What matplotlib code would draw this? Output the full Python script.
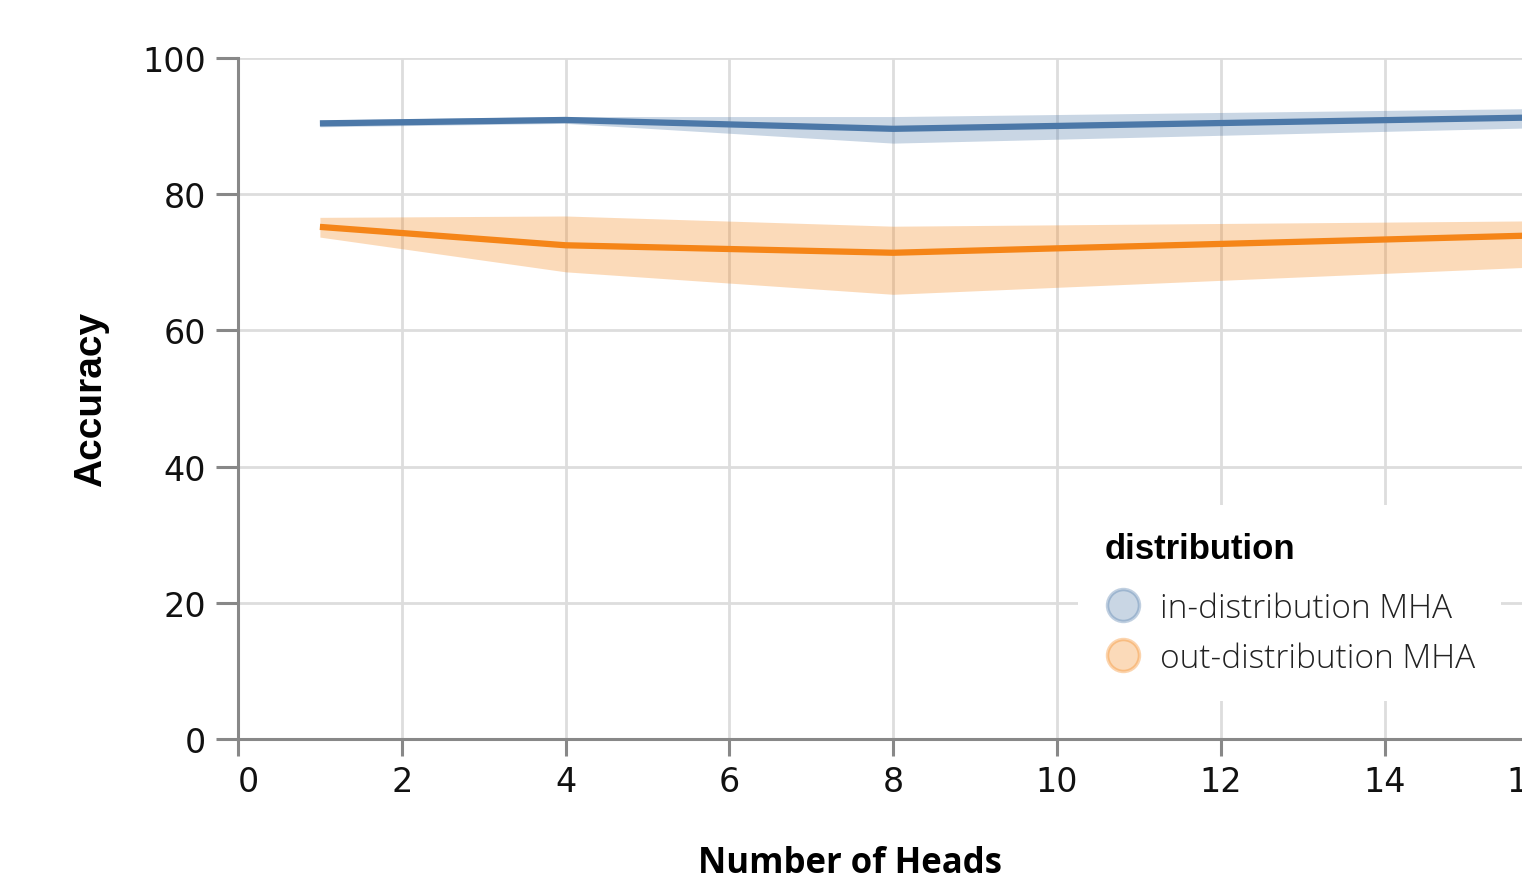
import matplotlib
matplotlib.use("Agg")
import matplotlib.pyplot as plt
from matplotlib.lines import Line2D
from matplotlib.colors import to_rgba
from matplotlib.font_manager import FontProperties

# ---- data ----
heads = [1, 4, 8, 16]
in_mean = [90.4, 90.9, 89.6, 91.3]
in_lo = [89.9, 90.4, 87.5, 89.8]
in_hi = [90.9, 91.4, 91.4, 92.6]
out_mean = [75.2, 72.5, 71.4, 74.0]
out_lo = [73.7, 68.6, 65.3, 69.4]
out_hi = [76.6, 76.8, 75.3, 76.1]
series_labels = ["in-distribution MHA", "out-distribution MHA"]
x_ticks = [0, 2, 4, 6, 8, 10, 12, 14, 16]
y_ticks = [0, 20, 40, 60, 80, 100]

BLUE = "#4c78a8"
ORANGE = "#f58518"
AXC = "#888888"
GRIDC = "#dddddd"

W, H = 1522, 879
fig = plt.figure(figsize=(W / 100, H / 100), dpi=100)
x0, x1 = 238, 238 + 16 * 81.9
y0, y1 = 740, 59
ax = fig.add_axes([x0 / W, 1 - y0 / H, (x1 - x0) / W, (y0 - y1) / H])
ax.set_xlim(0, 16)
ax.set_ylim(0, 100)

ax.fill_between(heads, in_lo, in_hi, color=BLUE, alpha=0.3, lw=0, zorder=2)
ax.fill_between(heads, out_lo, out_hi, color=ORANGE, alpha=0.3, lw=0, zorder=2)
ax.plot(heads, in_mean, color=BLUE, lw=4.5, zorder=3, solid_capstyle="butt")
ax.plot(heads, out_mean, color=ORANGE, lw=4.5, zorder=3, solid_capstyle="butt")

# axes styling
for s in ["top", "right"]:
    ax.spines[s].set_visible(False)
for s in ["left", "bottom"]:
    ax.spines[s].set_color(AXC)
    ax.spines[s].set_linewidth(2.2)
ax.grid(True, color=GRIDC, lw=2)
ax.set_axisbelow(True)

tick_font = dict(family="DejaVu Sans", size=24)
ax.set_xticks(x_ticks)
ax.set_yticks(y_ticks)
ax.set_xticklabels([str(t) for t in x_ticks], fontdict=tick_font, color="#111111")
ax.set_yticklabels([str(t) for t in y_ticks], fontdict=tick_font, color="#111111")
xl = ax.get_xticklabels()
xl[0].set_ha("left")
xl[-1].set_ha("right")
ax.tick_params(axis="y", length=16, width=2.2, color=AXC, pad=7)
ax.tick_params(axis="x", length=12, width=2.2, color=AXC, pad=7)

ax.set_ylabel("Accuracy", family="Liberation Sans", weight="bold", size=28)
ax.yaxis.label.set_va("center")
ax.yaxis.set_label_coords((91 - x0) / (x1 - x0), 0.5)
ax.set_xlabel("Number of Heads", family="Open Sans", weight="bold", size=25)
ax.xaxis.label.set_va("center")
ax.xaxis.set_label_coords((850 - x0) / (x1 - x0), (y0 - 864) / (y0 - y1))

handles = [
    Line2D([], [], marker="o", ls="", ms=23,
           mfc=to_rgba(c, 0.3), mec=to_rgba(c, 0.35), mew=2.5)
    for c in (BLUE, ORANGE)
]
leg = ax.legend(
    handles, series_labels, title="distribution",
    loc="upper left", bbox_to_anchor=(1078 / W, 1 - 506 / H),
    bbox_transform=fig.transFigure, borderaxespad=0,
    frameon=True, facecolor="white", edgecolor="none", framealpha=1,
    fancybox=False, alignment="left",
    prop=FontProperties(family="Open Sans", weight="light", size=24),
    title_fontproperties=FontProperties(family="Liberation Sans", weight="bold", size=25),
    borderpad=0.8, handlelength=1.1, handletextpad=0.55, labelspacing=0.5,
)
# extra gap between legend title and entries
leg._legend_box.sep = leg._legend_box.sep + 7
for t in leg.get_texts():
    t.set_color("#222222")

fig.savefig("out.png", dpi=100)
